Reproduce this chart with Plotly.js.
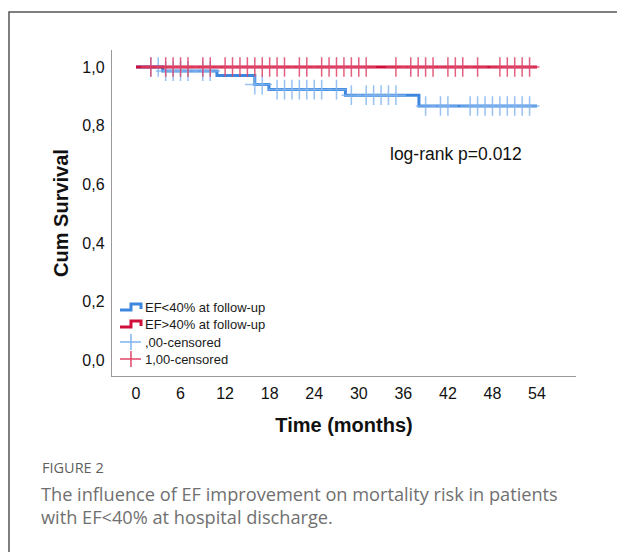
<!DOCTYPE html>
<html><head><meta charset="utf-8">
<script src="https://cdn.plot.ly/plotly-3.0.1.min.js"></script>
<style>html,body{margin:0;padding:0;background:#fff}#chart{width:617px;height:552px}</style>
</head><body><div id="chart"></div>
<script>
// ---- data ----
const blueStepTimes = [0, 3.6, 10.9, 16.0, 17.9, 28.2, 38.1, 54];
const blueStepSurv  = [1.0, 0.986, 0.971, 0.940, 0.923, 0.904, 0.867, 0.867];
const redStepTimes  = [0, 54];
const redStepSurv   = [1.0, 1.0];
const blueCensorTimes = [2, 3, 4, 5, 6, 7, 9, 10, 16, 17, 19, 20, 21, 22, 23, 24, 25, 27, 29, 31, 32, 33, 34, 35, 39, 41, 42, 45, 46, 47, 48, 49, 50, 51, 52, 53];
const blueCensorSurv  = [1.0, 1.0, 0.986, 0.986, 0.986, 0.986, 0.986, 0.986, 0.940, 0.940, 0.923, 0.923, 0.923, 0.923, 0.923, 0.923, 0.923, 0.923, 0.904, 0.904, 0.904, 0.904, 0.904, 0.904, 0.867, 0.867, 0.867, 0.867, 0.867, 0.867, 0.867, 0.867, 0.867, 0.867, 0.867, 0.867];
const redCensorTimes = [2, 4, 5, 6, 7, 9, 10, 12, 13, 14, 15, 16, 17, 18, 19, 20, 22, 23, 25, 26, 27, 28, 29, 30, 31, 35, 37, 38, 39, 40, 42, 43, 44, 46, 49, 50, 51, 52, 53];
const redCensorSurv  = redCensorTimes.map(() => 1.0);
const xTickVals = [0, 6, 12, 18, 24, 30, 36, 42, 48, 54];
const yTickVals = [0, 0.2, 0.4, 0.6, 0.8, 1.0];
const yTickText = ["0,0", "0,2", "0,4", "0,6", "0,8", "1,0"];
const legendLabels = ["EF<40% at follow-up", "EF>40% at follow-up", ",00-censored", "1,00-censored"];
const xTitle = "Time (months)";
const yTitle = "Cum Survival";
const noteText = "log-rank p=0.012";
const figLabel = "FIGURE 2";
const captionLines = ["The influence of EF improvement on mortality risk in patients", "with EF<40% at hospital discharge."];

// ---- styling / layout ----
const BLUE = "#3d88de", BLUE_C = "#80b3f0", RED = "#d0103a", RED_C = "#e0456a";
const W = 617, H = 552, L = 112, R = 576, T = 50, B = 376;
const px = x => (x - L) / (R - L);
const py = y => (B - y) / (B - T);
const AF = "Arial, 'Liberation Sans', sans-serif";
const CF = "'Open Sans', sans-serif";

const traces = [
  {x: blueStepTimes, y: blueStepSurv, mode: "lines", line: {shape: "hv", color: BLUE, width: 3}, hoverinfo: "skip"},
  {x: blueCensorTimes, y: blueCensorSurv, mode: "markers", marker: {symbol: "cross-thin", size: 14, opacity: 0.8, line: {color: BLUE_C, width: 1.5}}, hoverinfo: "skip"},
  {x: redStepTimes, y: redStepSurv, mode: "lines", line: {shape: "hv", color: RED, width: 3}, hoverinfo: "skip"},
  {x: redCensorTimes, y: redCensorSurv, mode: "markers", marker: {symbol: "cross-thin", size: 14, opacity: 0.85, line: {color: RED_C, width: 1.5}}, hoverinfo: "skip"}
];

function pathPx(pts){ return pts.map((p,i)=>(i?"L":"M")+px(p[0]).toFixed(4)+","+py(p[1]).toFixed(4)).join(" "); }

const shapes = [
  {type: "path", xref: "paper", yref: "paper", path: pathPx([[9, 560],[9, 12],[625, 12]]), line: {color: "#555", width: 1.5}},
  {type: "path", xref: "paper", yref: "paper", path: pathPx([[120,310],[131,310],[131,304],[141,304],[141,309]]), line: {color: BLUE, width: 3}},
  {type: "path", xref: "paper", yref: "paper", path: pathPx([[120,327],[131,327],[131,321],[141,321],[141,326]]), line: {color: RED, width: 3}},
  {type: "path", xref: "paper", yref: "paper", path: pathPx([[120,342],[141,342]]) + " " + pathPx([[131,334],[131,350]]), line: {color: BLUE_C, width: 1.5}},
  {type: "path", xref: "paper", yref: "paper", path: pathPx([[120,359],[141,359]]) + " " + pathPx([[131,351],[131,367]]), line: {color: RED_C, width: 1.5}}
];

const legendY = [307, 324, 342, 359];
const annotations = legendLabels.map((t, i) => ({
  text: t, xref: "paper", yref: "paper", x: px(143), y: py(legendY[i]), xanchor: "left", yanchor: "middle",
  showarrow: false, font: {family: AF, size: 13, color: "#1a1a1a"}
}));
annotations.push({text: noteText, xref: "paper", yref: "paper", x: px(456), y: py(154), xanchor: "center", yanchor: "middle", showarrow: false, font: {family: AF, size: 17.5, color: "#111"}});
annotations.push({text: figLabel, xref: "paper", yref: "paper", x: px(40), y: py(467), xanchor: "left", yanchor: "middle", showarrow: false, font: {family: CF, size: 14.5, color: "#5f5f5f"}});
captionLines.forEach((t, i) => annotations.push({text: t, xref: "paper", yref: "paper", x: px(39), y: py(494 + 23 * i), xanchor: "left", yanchor: "middle", showarrow: false, font: {family: CF, size: 18.2, color: "#707070"}}));

const layout = {
  width: W, height: H, margin: {l: L, r: W - R, t: T, b: H - B, pad: 0},
  paper_bgcolor: "#fff", plot_bgcolor: "#fff", showlegend: false,
  xaxis: {range: [-3.23, 59.25], tickvals: xTickVals, ticks: "", showgrid: false, zeroline: false,
    showline: true, linecolor: "#999", linewidth: 1.2, tickfont: {family: AF, size: 16, color: "#111"}, ticklabelstandoff: 3,
    title: {text: "<b>" + xTitle + "</b>", font: {family: AF, size: 20, color: "#111"}, standoff: 16}},
  yaxis: {range: [-0.0528, 1.0579], tickvals: yTickVals, ticktext: yTickText, ticks: "", showgrid: false, zeroline: false,
    showline: true, linecolor: "#999", linewidth: 1.2, tickfont: {family: AF, size: 16, color: "#111"}, ticklabelstandoff: 3,
    title: {text: "<b>" + yTitle + "</b>", font: {family: AF, size: 20, color: "#111"}, standoff: 8}},
  shapes: shapes, annotations: annotations
};
Plotly.newPlot("chart", traces, layout, {displayModeBar: false, staticPlot: true});
</script></body></html>
